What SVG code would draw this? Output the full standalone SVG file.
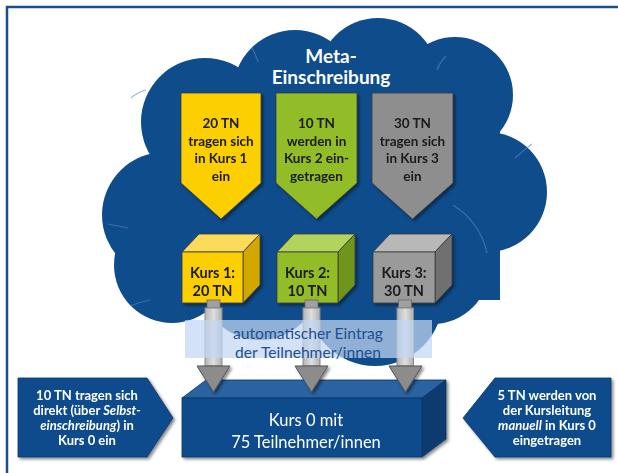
<svg xmlns="http://www.w3.org/2000/svg" width="618" height="473" viewBox="0 0 618 473">
<style>
  text { font-family: Lato, "Liberation Sans", sans-serif; text-anchor: middle; }
  .dk { fill: #1a1a1a; font-weight: bold; font-size: 13.5px; }
  .cb { fill: #1a1a1a; font-weight: bold; font-size: 14.5px; }
  .wt { fill: #ffffff; font-weight: bold; font-size: 13px; }
  .ttl { fill: #ffffff; font-weight: bold; font-size: 19px; }
  .band { fill: #1f4f8e; font-size: 16px; }
  .k0 { fill: #ffffff; font-size: 16.5px; }
  .edge { stroke: #3a3a3a; stroke-width: 0.8; stroke-linejoin: round; }
  .shaft { fill: url(#shaftG); stroke: #8a8a8a; stroke-width: 1; }
  .head { fill: #8c8c8c; stroke: #555; stroke-width: 1; stroke-linejoin: round; }
  .cloudline { fill: none; stroke: #5d86b8; stroke-width: 1.2; opacity: 0.6; }
</style>
<defs>
  <filter id="sh" x="-10%" y="-10%" width="130%" height="130%">
    <feDropShadow dx="2" dy="2" stdDeviation="1.5" flood-color="#000" flood-opacity="0.45"/>
  </filter>
  <linearGradient id="shaftG" x1="0" y1="0" x2="1" y2="0">
    <stop offset="0" stop-color="#b5b5b5"/>
    <stop offset="0.5" stop-color="#dedede"/>
    <stop offset="1" stop-color="#b0b0b0"/>
  </linearGradient>
</defs>

<rect x="0" y="0" width="618" height="473" fill="#ffffff"/>
<path d="M7 473 V7 H618" fill="none" stroke="#1a4f8f" stroke-width="2.5"/>

<g id="cloud" fill="#0f4c8c">
  <circle cx="205" cy="122" r="64"/>
  <circle cx="295" cy="92" r="62"/>
  <circle cx="378" cy="78" r="60"/>
  <circle cx="455" cy="95" r="58"/>
  <circle cx="487" cy="192" r="60"/>
  <circle cx="165" cy="215" r="63"/>
  <circle cx="172" cy="265" r="58"/>
  <circle cx="433" cy="268" r="56"/>
  <circle cx="375" cy="298" r="68"/>
  <circle cx="260" cy="280" r="60"/>
  <rect x="160" y="90" width="340" height="210"/>
  <path class="cloudline" d="M131 98 Q138 92 146 90"/>
  <path class="cloudline" d="M252 48 Q256 55 258 62"/>
  <path class="cloudline" d="M437 70 Q440 62 446 56"/>
  <path class="cloudline" d="M515 158 Q524 150 532 144"/>
  <path class="cloudline" d="M453 205 Q480 222 487 253"/>
  <path class="cloudline" d="M108 224 Q118 226 128 228"/>
  <path class="cloudline" d="M130 306 Q140 302 150 300"/>
</g>

<g id="title">
  <text class="ttl" x="331" y="63">Meta-</text>
  <text class="ttl" x="331" y="84">Einschreibung</text>
</g>

<g id="arrow1" filter="url(#sh)">
  <polygon class="edge" points="181,93 261,93 261,183 221,219 181,183" fill="#fbcf00"/>
  <text class="dk" x="221" y="128">20 TN</text>
  <text class="dk" x="221" y="145.5">tragen sich</text>
  <text class="dk" x="221" y="163">in Kurs 1</text>
  <text class="dk" x="221" y="180.5">ein</text>
</g>
<g id="arrow2" filter="url(#sh)">
  <polygon class="edge" points="276,93 357,93 357,183 316.5,219 276,183" fill="#93bd26"/>
  <text class="dk" x="316.5" y="128">10 TN</text>
  <text class="dk" x="316.5" y="145.5">werden in</text>
  <text class="dk" x="316.5" y="163">Kurs 2 ein-</text>
  <text class="dk" x="316.5" y="180.5">getragen</text>
</g>
<g id="arrow3" filter="url(#sh)">
  <polygon class="edge" points="372,93 453,93 453,183 412.5,219 372,183" fill="#8e8e8e"/>
  <text class="dk" x="412.5" y="128">30 TN</text>
  <text class="dk" x="412.5" y="145.5">tragen sich</text>
  <text class="dk" x="412.5" y="163">in Kurs 3</text>
  <text class="dk" x="412.5" y="180.5">ein</text>
</g>

<g id="cube1" filter="url(#sh)">
  <polygon class="edge" points="182,252 199,234 260,234 243,252" fill="#fbdb5a"/>
  <polygon class="edge" points="243,252 260,234 260,285 243,303" fill="#d2a800"/>
  <rect class="edge" x="182" y="252" width="61" height="51" fill="#fbcf00"/>
  <text class="cb" x="212.5" y="278">Kurs 1:</text>
  <text class="cb" x="212.5" y="296">20 TN</text>
</g>
<g id="cube2" filter="url(#sh)">
  <polygon class="edge" points="277,252 294,234 355,234 338,252" fill="#b2d45c"/>
  <polygon class="edge" points="338,252 355,234 355,285 338,303" fill="#6f951c"/>
  <rect class="edge" x="277" y="252" width="61" height="51" fill="#93bd26"/>
  <text class="cb" x="307.5" y="278">Kurs 2:</text>
  <text class="cb" x="307.5" y="296">10 TN</text>
</g>
<g id="cube3" filter="url(#sh)">
  <polygon class="edge" points="373,252 390,234 452,234 435,252" fill="#b8b8b8"/>
  <polygon class="edge" points="435,252 452,234 452,285 435,303" fill="#6f6f6f"/>
  <rect class="edge" x="373" y="252" width="62" height="51" fill="#9a9a9a"/>
  <text class="cb" x="404" y="278">Kurs 3:</text>
  <text class="cb" x="404" y="296">30 TN</text>
</g>

<g id="connectors">
  <rect x="207" y="300" width="13" height="8" fill="#a0a0a0" stroke="#666" stroke-width="0.8"/>
  <rect class="shaft" x="205" y="308" width="17" height="58"/>
  <rect x="305" y="300" width="13" height="8" fill="#a0a0a0" stroke="#666" stroke-width="0.8"/>
  <rect class="shaft" x="303" y="308" width="17" height="58"/>
  <rect x="398.5" y="300" width="13" height="8" fill="#a0a0a0" stroke="#666" stroke-width="0.8"/>
  <rect class="shaft" x="397" y="308" width="16.5" height="58"/>
</g>

<g id="band">
  <rect x="185" y="320" width="247" height="38" fill="#c2d7f3" opacity="0.72"/>
  <text class="band" x="308" y="339" textLength="150" lengthAdjust="spacingAndGlyphs">automatischer Eintrag</text>
  <text class="band" x="308" y="358" textLength="146" lengthAdjust="spacingAndGlyphs">der Teilnehmer/innen</text>
</g>

<g id="kurs0" filter="url(#sh)">
  <polygon points="182,398 206,380 446,380 422,398" fill="#2c62a2" stroke="#0a3566" stroke-width="0.8"/>
  <polygon points="422,398 446,380 446,439 422,457" fill="#0a3a70" stroke="#0a3566" stroke-width="0.8"/>
  <rect x="182" y="398" width="240" height="59" fill="#0f4c8c" stroke="#0a3566" stroke-width="0.8"/>
  <text class="k0" x="306" y="426">Kurs 0 mit</text>
  <text class="k0" x="306" y="448">75 Teilnehmer/innen</text>
</g>

<g id="heads" filter="url(#sh)">
  <polygon class="head" points="197,366 230,366 213.5,392"/>
  <polygon class="head" points="295,366 328,366 311.5,392"/>
  <polygon class="head" points="389,366 422,366 405.5,392"/>
</g>

<g id="left" filter="url(#sh)">
  <polygon points="18,378 147,378 173,418 147,457 18,457" fill="#0f4c8c" stroke="#0a3566" stroke-width="0.8"/>
  <text class="wt" x="87" y="399.5">10 TN tragen sich</text>
  <text class="wt" x="87" y="414.5">direkt (über <tspan font-style="italic">Selbst-</tspan></text>
  <text class="wt" x="87" y="429.5"><tspan font-style="italic">einschreibung</tspan>) in</text>
  <text class="wt" x="87" y="444.5">Kurs 0 ein</text>
</g>

<g id="right" filter="url(#sh)">
  <polygon points="463,418 495,378 611,378 611,457 495,457" fill="#0f4c8c" stroke="#0a3566" stroke-width="0.8"/>
  <text class="wt" x="547" y="399.5">5 TN werden von</text>
  <text class="wt" x="547" y="414.5">der Kursleitung</text>
  <text class="wt" x="547" y="429.5"><tspan font-style="italic">manuell</tspan> in Kurs 0</text>
  <text class="wt" x="547" y="444.5">eingetragen</text>
</g>
</svg>
